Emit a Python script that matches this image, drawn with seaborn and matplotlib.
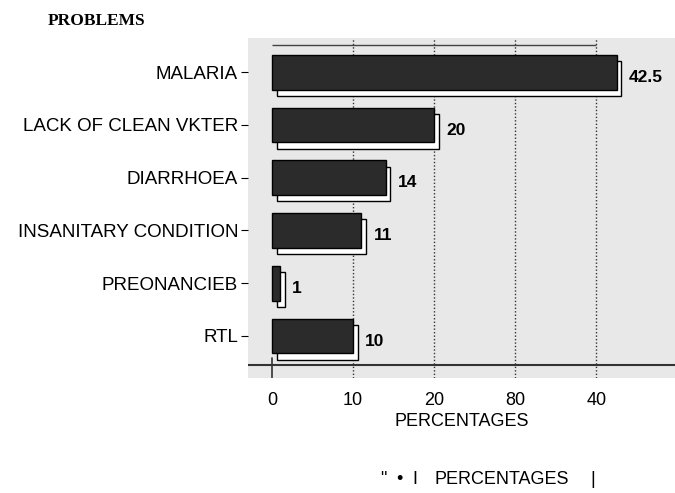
import matplotlib
matplotlib.use("Agg")
import matplotlib.pyplot as plt
import matplotlib.patches as mpatches
import seaborn as sns
import pandas as pd

problems = ["MALARIA", "LACK OF CLEAN VKTER", "DIARRHOEA",
            "INSANITARY CONDITION", "PREONANCIEB", "RTL"]
percentages = [42.5, 20, 14, 11, 1, 10]
value_labels = ["42.5", "20", "14", "11", "1", "10"]
tick_values = [0, 10, 20, 30, 40]
tick_labels = ["0", "10", "20", "80", "40"]

df = pd.DataFrame({"problem": problems, "pct": percentages})

sns.set_style("white")
plt.rcParams["font.family"] = ["Liberation Sans", "DejaVu Sans"]
plt.rcParams["text.color"] = "black"
plt.rcParams["axes.labelcolor"] = "black"
plt.rcParams["xtick.color"] = "black"
plt.rcParams["ytick.color"] = "black"

fig = plt.figure(figsize=(6.75, 4.93), dpi=100)
ax = fig.add_axes([0.367, 0.233, 0.633, 0.69])
ax.set_facecolor("#e8e8e8")

sns.barplot(data=df, x="pct", y="problem", orient="h", color="#2b2b2b",
            width=0.66, edgecolor="black", linewidth=1, ax=ax, zorder=3)

# white "3d" side of each bar
for p in list(ax.patches):
    x0, y0 = p.get_x(), p.get_y()
    w, h = p.get_width(), p.get_height()
    shadow = mpatches.Rectangle((x0 + 0.6, y0 + 0.12), w, h,
                                facecolor="white", edgecolor="black",
                                linewidth=1, zorder=2)
    ax.add_patch(shadow)

for i, (v, lab) in enumerate(zip(percentages, value_labels)):
    ax.text(v + 1.5, i + 0.1, lab, va="center", ha="left",
            fontsize=12.5, fontweight="bold")

ax.set_xlim(-3, 49.7)
ax.set_ylim(5.8, -0.65)
ax.set_xticks(tick_values)
ax.set_xticklabels(tick_labels, fontsize=13)
ax.tick_params(axis="y", labelsize=13.5, length=5, left=True, pad=2)
ax.tick_params(axis="x", length=0, pad=10)
for t in tick_values[1:]:
    ax.axvline(t, color="#333333", linestyle=(0, (1, 1.5)), linewidth=1, zorder=1)
ax.axvline(0, ymin=0, ymax=0.06, color="#333333", linewidth=1.2, zorder=1)
ax.axhline(5.55, color="#333333", linewidth=1.5, zorder=1)
ax.hlines(-0.52, tick_values[0], tick_values[-1], color="#444444",
          linewidth=1, zorder=1)

for s in ax.spines.values():
    s.set_visible(False)

ax.set_ylabel("")
ax.set_xlabel("PERCENTAGES", fontsize=13, labelpad=3)

fig.text(0.071, 0.958, "PROBLEMS", fontsize=12.5, fontweight="bold",
         family="Liberation Serif", ha="left", va="center")
fig.text(380 / 675, 0.027, "\"", fontsize=13, ha="left", va="center")
fig.text(396 / 675, 0.027, "•", fontsize=13, ha="left", va="center")
fig.text(412 / 675, 0.027, "I", fontsize=13, ha="left", va="center")
fig.text(434 / 675, 0.027, "PERCENTAGES", fontsize=13, ha="left", va="center")
fig.text(590 / 675, 0.027, "|", fontsize=13, ha="left", va="center")

fig.savefig("out.png", dpi=100)
